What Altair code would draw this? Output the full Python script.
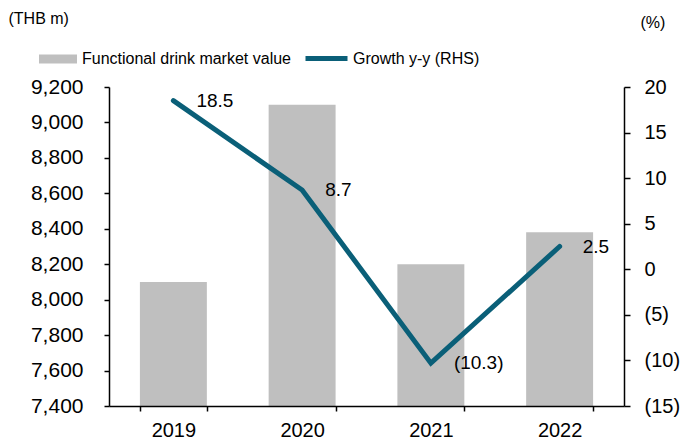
import altair as alt
import pandas as pd

years = ["2019", "2020", "2021", "2022"]
market_value = [8100, 9100, 8200, 8380]
growth = [18.5, 8.7, -10.3, 2.5]
bar_series = "Functional drink market value"
line_series = "Growth y-y (RHS)"
left_ticks = [7400, 7600, 7800, 8000, 8200, 8400, 8600, 8800, 9000, 9200]
right_ticks = [-15, -10, -5, 0, 5, 10, 15, 20]
left_min = 7400

labels = [f"({abs(g)})" if g < 0 else f"{g}" for g in growth]

df = pd.DataFrame({
    "year": years,
    "value": market_value,
    "growth": growth,
    "label": labels,
    "bs": [bar_series] * 4,
    "ls": [line_series] * 4,
})

FONT = "Liberation Sans"
TEAL = "#0a5f78"
GRAY = "#bfbfbf"

x_enc = alt.X(
    "year:N",
    title=None,
    scale=alt.Scale(paddingInner=0.48, paddingOuter=0.24),
    axis=alt.Axis(labelAngle=0, tickBand="extent", tickSize=5, labelPadding=9,
                  labelFontSize=20, domainColor="black", tickColor="black",
                  domainWidth=1.5, tickWidth=1.5, grid=False, zindex=1),
)

bars = alt.Chart(df).mark_bar(color=GRAY).encode(
    x=x_enc,
    y=alt.Y(
        "value:Q",
        scale=alt.Scale(domain=[7400, 9200], zero=False, nice=False),
        axis=alt.Axis(values=left_ticks, format=",d", tickSize=5, labelPadding=21,
                      labelFontSize=21, domainColor="black", tickColor="black",
                      domainWidth=1.5, tickWidth=1.5, grid=False, zindex=1,
                      title="(THB m)", titleAngle=0, titleAlign="left",
                      titleBaseline="middle", titleX=-101, titleY=-69,
                      titleFontSize=16, titleFontWeight="normal"),
    ),
    y2=alt.Y2(datum=left_min),
    color=alt.Color(
        "bs:N",
        scale=alt.Scale(domain=[bar_series], range=[GRAY]),
        legend=alt.Legend(title=None, orient="none", legendX=-70, legendY=-47,
                          symbolType="M-1,-0.24H1V0.24H-1Z", symbolSize=1444,
                          symbolStrokeWidth=0, symbolOpacity=1, labelLimit=0,
                          labelFontSize=16, labelOffset=5, padding=0),
    ),
)

right_axis = alt.Axis(orient="right", values=right_ticks,
                      labelExpr="datum.value < 0 ? '(' + abs(datum.value) + ')' : datum.value",
                      tickSize=6, labelPadding=14, labelFontSize=20,
                      domainColor="black", tickColor="black", domainWidth=1.5,
                      tickWidth=1.5, grid=False, zindex=1,
                      title="(%)", titleAngle=0, titleAlign="left",
                      titleBaseline="middle", titleX=16, titleY=-65,
                      titleFontSize=16, titleFontWeight="normal")
y_right = alt.Y("growth:Q", scale=alt.Scale(domain=[-15, 20], nice=False, zero=False),
                axis=right_axis)

line = alt.Chart(df).mark_line(strokeWidth=5, strokeCap="round").encode(
    x=alt.X("year:N"),
    y=y_right,
    stroke=alt.Stroke(
        "ls:N",
        scale=alt.Scale(domain=[line_series], range=[TEAL]),
        legend=alt.Legend(title=None, orient="none", legendX=194, legendY=-52,
                          symbolType="M-1,0H1", symbolSize=1764, labelLimit=0,
                          symbolStrokeWidth=5, labelFontSize=16,
                          labelOffset=3, padding=0),
    ),
)

text = alt.Chart(df).mark_text(align="left", baseline="middle", dx=23, fontSize=19,
                               color="black", font=FONT).encode(
    x=alt.X("year:N"),
    y=y_right,
    text="label:N",
)

chart = alt.layer(bars, alt.layer(line, text)).resolve_scale(
    y="independent", color="independent"
).properties(
    width=515, height=319,
    autosize=alt.AutoSizeParams(type="none"),
    padding={"left": 101, "top": 79, "right": 60, "bottom": 38},
).configure(
    font=FONT,
).configure_view(
    stroke=None
).configure_axis(
    labelColor="black", titleColor="black", labelFont=FONT, titleFont=FONT
).configure_legend(
    labelFont=FONT, labelColor="black"
)

chart.save("out.html", embed_options={"renderer": "svg", "actions": False})
